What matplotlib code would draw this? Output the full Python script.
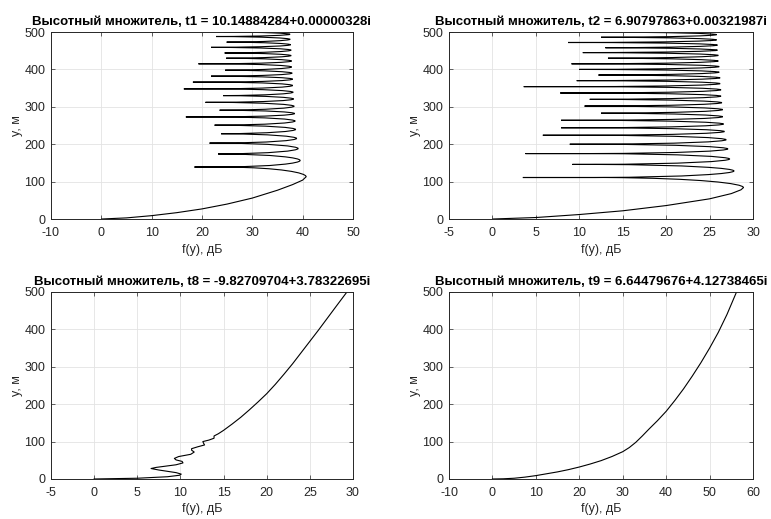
import numpy as np
import matplotlib
matplotlib.use("Agg")
import matplotlib.pyplot as plt
from matplotlib.path import Path
from matplotlib.patches import PathPatch

plt.rcParams['font.family'] = ['Liberation Sans', 'DejaVu Sans']
plt.rcParams['axes.unicode_minus'] = False

# --- t1: высотный множитель ---
t1_rise_x = [0, 5, 10, 15, 20, 25, 30, 35, 38, 40, 40.7]
t1_rise_y = [0, 3, 9, 17, 27, 40, 56, 77, 92, 104, 113]
t1_null_y = [139, 174, 203, 228, 251, 273, 291, 312, 330, 348,
             366, 382, 398, 415, 430, 444, 459, 473, 488, 500]
t1_null_tip = [18.5, 23.2, 21.5, 23.8, 22.5, 16.8, 23.5, 20.7, 24.2, 16.4,
               18.2, 21.8, 24.6, 19.3, 24.8, 24.5, 21.8, 24.9, 22.8, 24.3]
t1_peak = [39.5, 39.1, 38.8, 38.6, 38.5, 38.4, 38.3, 38.2, 38.1, 38.0,
           38.0, 37.9, 37.8, 37.8, 37.7, 37.7, 37.6, 37.5, 37.5]

# --- t2 ---
t2_rise_x = [0, 5, 10, 15, 20, 25, 27.5, 28.6, 28.9]
t2_rise_y = [0, 4, 12, 22, 36, 54, 68, 78, 84]
t2_null_y = [111, 146, 175, 200, 224, 244, 264, 283, 302, 320, 337,
             354, 370, 385, 400, 415, 430, 445, 458, 472, 486, 500]
t2_null_tip = [3.5, 9.2, 3.8, 8.9, 5.8, 7.9, 7.9, 12.5, 10.6, 11.2, 7.8,
               3.6, 9.7, 12.2, 10.0, 9.1, 13.3, 10.4, 13.0, 8.7, 12.5, 10.0]
t2_peak = [27.8, 27.3, 27.1, 26.9, 26.7, 26.6, 26.5, 26.5, 26.4, 26.3, 26.3,
           26.2, 26.2, 26.1, 26.1, 26.0, 26.0, 25.9, 25.9, 25.8, 25.8]

# --- t8 ---
t8_x = [0, 5, 8.5, 9.9, 10.1, 9.5, 7.5, 6.6, 7.2, 9.5, 10.3, 10.2, 9.5, 9.3,
        9.8, 11.2, 11.6, 11.3, 11.3, 12.0, 12.8, 12.7, 12.6, 13.3, 13.9, 13.9,
        14.4, 15.0, 16.0, 17.0, 18.0, 19.0, 20.0, 21.0, 22.0, 23.0, 24.0,
        25.0, 26.0, 27.0, 28.0, 29.3]
t8_y = [0, 2, 6, 10, 13, 17, 24, 28, 31, 38, 43, 47, 51, 55,
        60, 66, 72, 77, 81, 86, 91, 95, 100, 104, 109, 115,
        121, 130, 147, 165, 185, 206, 228, 253, 280, 308, 338,
        368, 398, 429, 460, 500]

# --- t9 ---
t9_x = [0, 2.5, 5, 7.5, 10, 12.5, 15, 17.5, 20, 22.5, 25, 27.5, 30, 31.5, 33,
        34.5, 36, 38, 40, 42, 44, 46, 48, 50, 52, 54, 56.2]
t9_y = [0, 0.5, 2, 5, 9, 14, 19, 25, 32, 40, 49, 60, 73, 84, 98,
        115, 133, 156, 181, 210, 241, 275, 311, 350, 392, 440, 500]

titles = ["Высотный множитель, t1 = 10.14884284+0.00000328i",
          "Высотный множитель, t2 = 6.90797863+0.00321987i",
          "Высотный множитель, t8 = -9.82709704+3.78322695i",
          "Высотный множитель, t9 = 6.64479676+4.12738465i"]
xlims = [(-10, 50), (-5, 30), (-5, 30), (-10, 60)]
xticks = [np.arange(-10, 51, 10), np.arange(-5, 31, 5),
          np.arange(-5, 31, 5), np.arange(-10, 61, 10)]

LW = 0.8


def lobe_path(rise_x, rise_y, null_y, null_tip, peak, depth=16.0):
    # подъём до первого максимума, затем лепестки между нулями
    verts = list(zip(rise_x, rise_y))
    codes = [Path.MOVETO] + [Path.LINETO] * (len(verts) - 1)
    peaks = [rise_x[-1]] + list(peak)
    mids = [rise_y[-1]] + [(null_y[i] + null_y[i + 1]) / 2 for i in range(len(peak))]
    for i, yn in enumerate(null_y):
        P, ym = peaks[i], mids[i]
        h = yn - ym
        xj = max(null_tip[i], P - depth)
        verts += [(P, ym + 0.4 * h), (P - 5, yn - 0.06 * h), (xj, yn)]
        codes += [Path.CURVE4] * 3
        verts += [(null_tip[i], yn)]
        codes += [Path.LINETO]
        if i < len(peak):
            P2 = peak[i]
            ym2 = mids[i + 1]
            h2 = ym2 - yn
            xj2 = max(null_tip[i], P2 - depth)
            verts += [(xj2, yn), (P2 - 5, yn + 0.06 * h2), (P2, ym2 - 0.4 * h2), (P2, ym2)]
            codes += [Path.LINETO] + [Path.CURVE4] * 3
    return Path(verts, codes)


fig = plt.figure(figsize=(7.71, 5.19), dpi=100)
pos = [(0.0661, 0.578, 0.3917, 0.3603), (0.5824, 0.578, 0.3943, 0.3603),
       (0.0661, 0.0771, 0.3917, 0.3603), (0.5824, 0.0771, 0.3943, 0.3603)]
axes = [fig.add_axes(p) for p in pos]

axes[0].add_patch(PathPatch(lobe_path(t1_rise_x, t1_rise_y, t1_null_y, t1_null_tip, t1_peak),
                            fill=False, edgecolor='black', lw=LW))
axes[1].add_patch(PathPatch(lobe_path(t2_rise_x, t2_rise_y, t2_null_y, t2_null_tip, t2_peak),
                            fill=False, edgecolor='black', lw=LW))
axes[2].plot(t8_x, t8_y, color='black', lw=LW)
axes[3].plot(t9_x, t9_y, color='black', lw=LW)

for ax, title, xl, xt in zip(axes, titles, xlims, xticks):
    ax.set_xlim(*xl)
    ax.set_ylim(0, 500)
    ax.set_xticks(xt)
    ax.set_yticks(np.arange(0, 501, 100))
    ax.grid(True, color='#e3e3e3', lw=0.6)
    ax.set_axisbelow(True)
    ax.tick_params(direction='in', top=True, right=True, length=3, width=0.5,
                   labelsize=9, colors='#262626')
    ax.tick_params(axis='x', pad=6)
    ax.tick_params(axis='y', pad=4)
    for s in ax.spines.values():
        s.set_color('#262626')
        s.set_linewidth(0.7)
    ax.set_title(title, fontsize=9.5, fontweight='bold', pad=5)
    ax.set_xlabel('f(y), дБ', fontsize=9, color='#262626', labelpad=3)
    ax.set_ylabel('y, м', fontsize=9, color='#262626', labelpad=1)

fig.savefig('out.png', dpi=100)
